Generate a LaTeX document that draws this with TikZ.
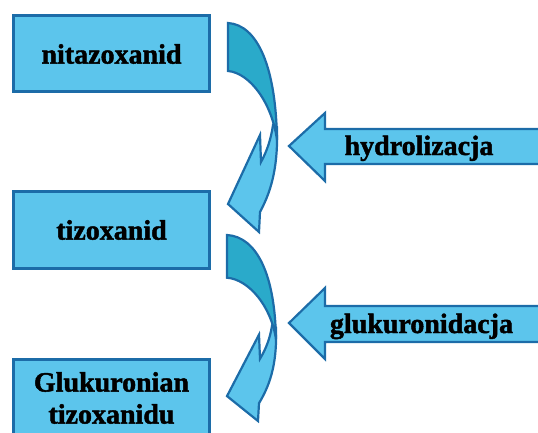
\documentclass[tikz,border=0pt]{standalone}
\usepackage{fontspec}
\setmainfont{Liberation Serif}[BoldFeatures={FakeBold=1.6}]
\definecolor{boxfill}{RGB}{92,197,236}
\definecolor{boxline}{RGB}{28,108,168}
\definecolor{tailfill}{RGB}{42,170,202}
\newcommand\curvarrow[3]{%
\begin{scope}[shift={(#1,#2)},yscale=#3]
\filldraw[blockarrow] (45,102) -- (49,104) .. controls (50,140) and (45,165) .. (32,189) -- (31,209) -- (0,181) -- (32,112) -- (33,139) .. controls (39,128) and (43,116) .. (45,102) -- cycle;
\filldraw[blockarrow,fill=tailfill] (0,0) .. controls (30,2) and (48,45) .. (49,117) .. controls (44,80) and (22,50) .. (0,48) -- cycle;
\end{scope}}
\begin{document}
\begin{tikzpicture}[x=1pt,y=-1pt,
  box/.style={draw=boxline,line width=3pt,fill=boxfill,minimum width=196pt,inner sep=0pt,
    font=\fontsize{28}{32}\selectfont\bfseries,align=center},
  blockarrow/.style={draw=boxline,line width=2.2pt,fill=boxfill,line join=miter},
  lbl/.style={font=\fontsize{28}{32}\selectfont\bfseries,anchor=base,inner sep=0pt}]
\useasboundingbox (0,0) rectangle (538,433);
\clip (0,0) rectangle (538,433);
\node[box,minimum height=76pt] (nit) at (111.5,54) {nitazoxanid};
\node[box,minimum height=77pt] (tiz) at (111.5,230) {tizoxanid};
\node[box,minimum height=77pt] (glu) at (111.5,398) {Glukuronian\\tizoxanidu};
\curvarrow{228}{23}{1}
\curvarrow{227}{235}{0.89}
\filldraw[blockarrow] (545,129) -- (325,129) -- (325,113) -- (289,146) -- (325,181) -- (325,164) -- (545,164) -- cycle;
\node[lbl] (hyd) at (419,155) {hydrolizacja};
\filldraw[blockarrow] (545,306) -- (325,306) -- (325,288) -- (289,323) -- (325,359) -- (325,342) -- (545,342) -- cycle;
\node[lbl] (glk) at (421.5,333) {glukuronidacja};
\end{tikzpicture}
\end{document}
